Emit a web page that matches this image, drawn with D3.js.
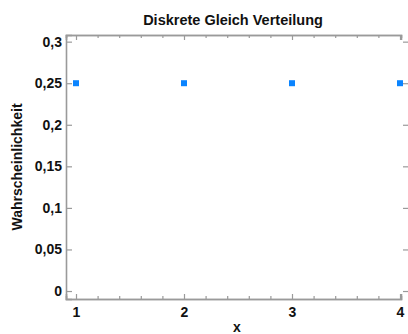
<!DOCTYPE html>
<html><head><meta charset="utf-8">
<script src="https://cdn.jsdelivr.net/npm/d3@7"></script>
<style>body{margin:0;background:#fff}svg{display:block}text{font-family:"Liberation Sans",Arial,sans-serif;font-weight:bold;fill:#111}</style>
</head><body>
<script>
const xValues = [1, 2, 3, 4];
const probabilities = [0.25, 0.25, 0.25, 0.25];
const yTicks = [0, 0.05, 0.1, 0.15, 0.2, 0.25, 0.3];
const xTicks = [1, 2, 3, 4];
const title = "Diskrete Gleich Verteilung";
const xLabel = "x";
const yLabel = "Wahrscheinlichkeit";

const W = 408, H = 334;
const svg = d3.select("body").append("svg").attr("width", W).attr("height", H);
const mLeft = 66, mRight = 401, mTop = 35, mBottom = 299;
const x = d3.scaleLinear().domain([0.9074, 4.0093]).range([mLeft, mRight]);
const y = d3.scaleLinear().domain([-0.0096, 0.308]).range([mBottom, mTop]);
const fmt = d => String(d).replace(".", ",");
const grey = "#9a9a9a";

const minor = d3.range(1, 4.0001, 0.2).map(v => +v.toFixed(2)).filter(v => !xTicks.includes(v));

// bottom axis
svg.append("g").attr("transform", `translate(0,${mBottom})`)
  .call(d3.axisBottom(x).tickValues(xTicks).tickSize(-5).tickPadding(8).tickFormat(d3.format("d")));
svg.append("g").attr("transform", `translate(0,${mBottom})`)
  .call(d3.axisBottom(x).tickValues(minor).tickSize(-3).tickFormat(""));
// top axis
svg.append("g").attr("transform", `translate(0,${mTop})`)
  .call(d3.axisTop(x).tickValues(xTicks).tickSize(-5).tickFormat(""));
svg.append("g").attr("transform", `translate(0,${mTop})`)
  .call(d3.axisTop(x).tickValues(minor).tickSize(-3).tickFormat(""));
// left axis
svg.append("g").attr("transform", `translate(${mLeft},0)`)
  .call(d3.axisLeft(y).tickValues(yTicks).tickSize(-6).tickPadding(4).tickFormat(fmt));
// right ticks (no line)
const rAx = svg.append("g").attr("transform", `translate(403,0)`)
  .call(d3.axisRight(y).tickValues(yTicks).tickSize(6).tickFormat(""));
rAx.select(".domain").remove();

svg.selectAll(".domain").attr("stroke", grey).attr("stroke-width", 1.6);
svg.selectAll(".tick line").attr("stroke", grey).attr("stroke-width", 1.2);
svg.selectAll(".tick text").style("font-size", "14px").style("font-weight", "bold")
  .attr("fill", "#111").style("font-family", '"Liberation Sans",Arial,sans-serif');

// points
svg.append("g").selectAll("rect").data(xValues).join("rect")
  .attr("x", (d) => x(d) - 3).attr("y", (d, i) => y(probabilities[i]) - 3)
  .attr("width", 6).attr("height", 6).attr("fill", "#0a84ff");

svg.append("text").attr("x", 233).attr("y", 25).attr("text-anchor", "middle")
  .style("font-size", "14.5px").text(title);
svg.append("text").attr("x", 237).attr("y", 332).attr("text-anchor", "middle")
  .style("font-size", "14px").text(xLabel);
svg.append("text").attr("transform", `translate(22,167) rotate(-90)`).attr("text-anchor", "middle")
  .style("font-size", "14px").text(yLabel);
</script>
</body></html>
